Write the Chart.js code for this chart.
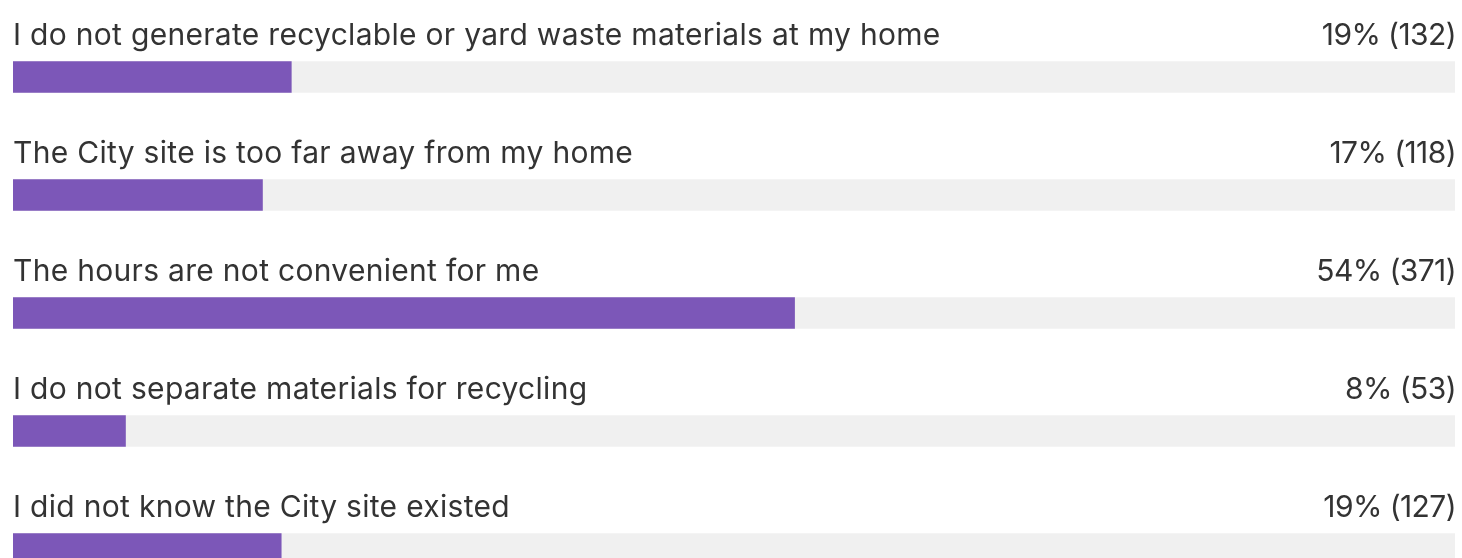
<!DOCTYPE html>
<html>
<head>
<meta charset="utf-8">
<script src="https://cdn.jsdelivr.net/npm/chart.js@4/dist/chart.umd.min.js"></script>
<style>
  html, body { margin: 0; padding: 0; background: #ffffff; overflow: hidden; }
  #wrap { width: 1462px; height: 620px; }
</style>
</head>
<body>
<div id="wrap"><canvas id="c" width="1462" height="620"></canvas></div>
<script>
const categories = [
  "I do not generate recyclable or yard waste materials at my home",
  "The City site is too far away from my home",
  "The hours are not convenient for me",
  "I do not separate materials for recycling",
  "I did not know the City site existed"
];
const percents = [19.3, 17.3, 54.2, 7.8, 18.6];
const counts = [132, 118, 371, 53, 127];
const trackValues = [100, 100, 100, 100, 100];

const FONT = "Inter, Roboto, sans-serif";
const TEXT_COLOR = "#333333";
const FONT_SIZE = 30;

const labelPlugin = {
  id: 'rowLabels',
  afterDatasetsDraw(chart) {
    const ctx = chart.ctx;
    const y = chart.scales.y;
    const area = chart.chartArea;
    ctx.save();
    ctx.font = FONT_SIZE + "px " + FONT;
    ctx.fillStyle = TEXT_COLOR;
    ctx.textBaseline = "alphabetic";
    categories.forEach((cat, i) => {
      const cy = y.getPixelForValue(i);
      const by = cy - 32;
      ctx.letterSpacing = "0.3px";
      ctx.textAlign = "left";
      ctx.fillText(cat, area.left, by);
      ctx.letterSpacing = "-0.6px";
      ctx.textAlign = "right";
      ctx.fillText(Math.round(percents[i]) + "% (" + counts[i] + ")", area.right + 1, by);
    });
    ctx.restore();
  }
};

new Chart(document.getElementById('c'), {
  type: 'bar',
  data: {
    labels: categories,
    datasets: [
      {
        data: percents,
        backgroundColor: '#7c57b8',
        barThickness: 31,
        grouped: false,
        order: 0
      },
      {
        data: trackValues,
        backgroundColor: '#f0f0f0',
        barThickness: 31,
        grouped: false,
        order: 1
      }
    ]
  },
  options: {
    indexAxis: 'y',
    responsive: false,
    animation: false,
    layout: { padding: { left: 13, right: 7, top: 18, bottom: 12 } },
    plugins: { legend: { display: false }, tooltip: { enabled: false } },
    scales: {
      x: { display: false, min: 0, max: 100 },
      y: { display: false }
    }
  },
  plugins: [labelPlugin]
});
</script>
</body>
</html>
